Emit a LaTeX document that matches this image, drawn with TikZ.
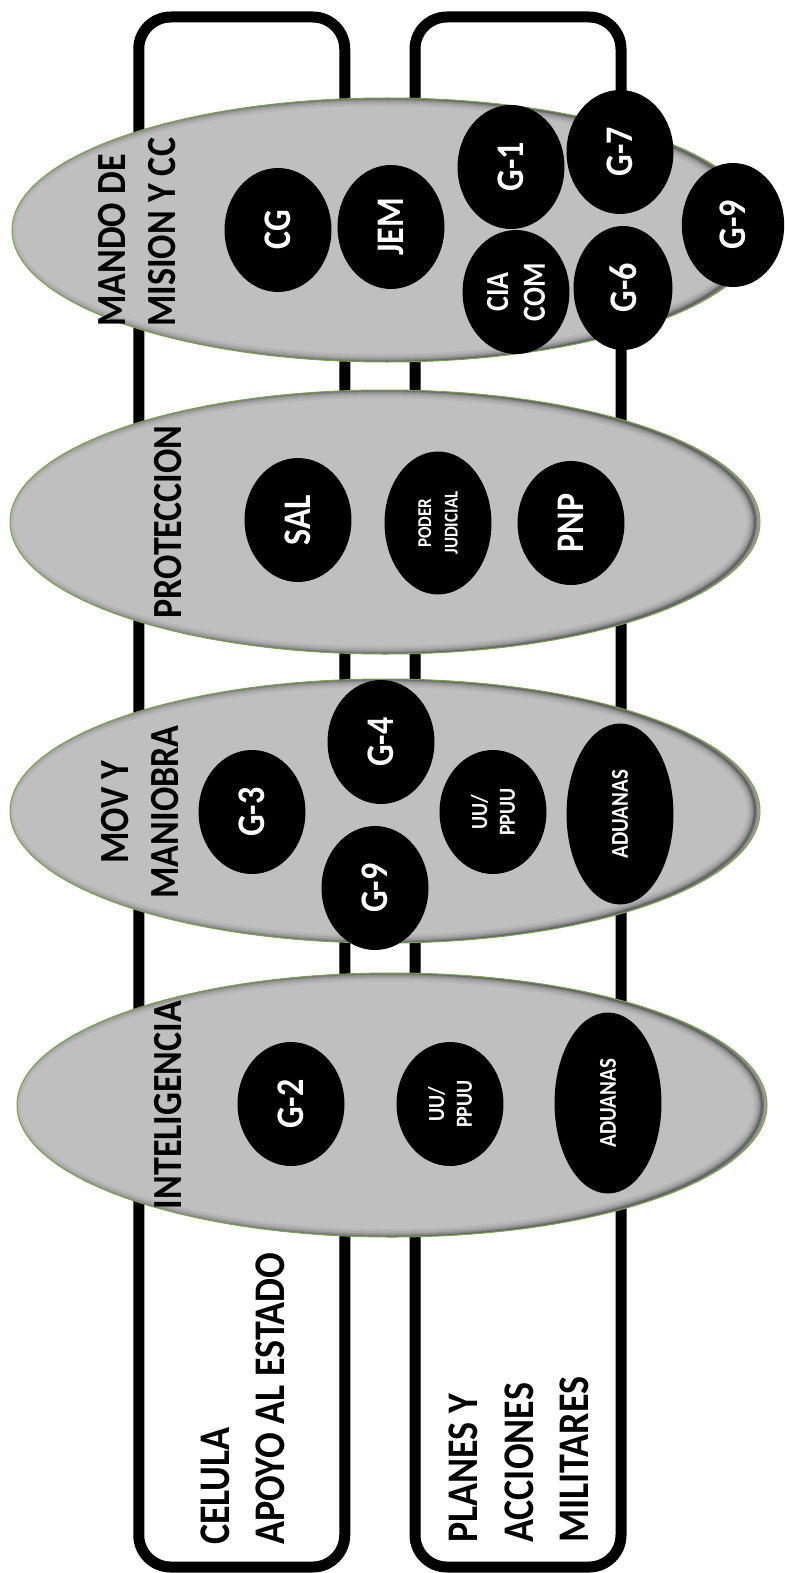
\documentclass[tikz,border=0pt]{standalone}
\usepackage{fontspec}
\setmainfont{Carlito}
\usetikzlibrary{shapes.geometric}
\definecolor{areagray}{RGB}{191,191,191}
\definecolor{areagreen}{RGB}{118,166,74}
\tikzset{
    frame/.style = {draw, rectangle, rounded corners=32pt, line width=11pt,
        minimum width=206pt, minimum height=1550pt},
    area/.style = {draw=areagreen, fill=areagray, ellipse, line width=1pt,
        minimum width=750pt, minimum height=264pt,
        path picture={
            \foreach \w/\o in {16/0.05, 11/0.08, 7/0.11, 4/0.15, 2/0.2}
                \draw [black, opacity=\o, line width=\w pt]
                    ([xshift=-5pt]path picture bounding box.center)
                    ellipse [x radius=375pt, y radius=132pt];
        }},
    unit/.style = {ellipse, fill=black, text=white, inner sep=0pt, align=center,
        rotate=90, yscale=1.15, transform shape,
        minimum width=124pt, minimum height=93pt,
        font=\fontsize{34}{38}\selectfont\bfseries},
    areatitle/.style = {rotate=90, yscale=1.15, transform shape, align=center,
        inner sep=0pt, font=\fontsize{36}{43}\selectfont\bfseries},
    frametext/.style = {rotate=90, yscale=1.15, transform shape, align=left,
        inner sep=0pt, anchor=west, font=\fontsize{38}{48}\selectfont\bfseries}
}
\begin{document}
\begin{tikzpicture}[x=1pt, y=-1pt]
    \useasboundingbox (0,0) rectangle (784,1573);
    % columnas
    \node [frame] (celula) at (241.75,792) {};
    \node [frame] (planes) at (518,792) {};
    \node [frametext] (celulatxt) at (243,1545) {CELULA\\APOYO AL ESTADO};
    \node [frametext] (planestxt) at (519,1543) {PLANES Y\\ACCIONES\\MILITARES};

    % areas
    \node [area] (mando) at (387,230) {};
    \node [area] (proteccion) at (385,522) {};
    \node [area] (maniobra) at (385,811) {};
    \node [area] (inteligencia) at (392,1105) {};

    \node [areatitle, align=left, anchor=west] (mandotxt) at (137,327) {MANDO DE\\MISION Y CC};
    \node [areatitle] (protecciontxt) at (168,522) {PROTECCION};
    \node [areatitle] (maniobratxt) at (140,812) {MOV Y\\MANIOBRA};
    \node [areatitle] (inteligenciatxt) at (168,1105) {INTELIGENCIA};

    % mando de mision y cc
    \node [unit] (cg) at (278,230) {CG};
    \node [unit] (jem) at (391,227) {JEM};
    \node [unit] (g1) at (511,167) {G-1};
    \node [unit, font=\fontsize{28}{32}\selectfont\bfseries] (ciacom) at (516,292) {CIA\\COM};
    \node [unit] (g7) at (620,152) {G-7};
    \node [unit, minimum height=86pt] (g6) at (623,288) {G-6};
    \node [unit, minimum height=89pt] (g9a) at (733,225) {G-9};

    % proteccion
    \node [unit] (sal) at (298,520) {SAL};
    \node [unit, minimum width=143pt, font=\fontsize{17}{23}\selectfont\bfseries] (poder) at (438,523) {PODER\\JUDICIAL};
    \node [unit] (pnp) at (571,523) {PNP};

    % mov y maniobra
    \node [unit] (g3) at (252,812) {G-3};
    \node [unit] (g4) at (381,742) {G-4};
    \node [unit] (g9b) at (375,888) {G-9};
    \node [unit, font=\fontsize{20}{24}\selectfont\bfseries] (uua) at (493,812) {UU/\\PPUU};
    \node [unit, minimum width=181pt, font=\fontsize{21}{24}\selectfont\bfseries] (aduanasa) at (620,814) {ADUANAS};

    % inteligencia
    \node [unit] (g2) at (291,1104) {G-2};
    \node [unit, font=\fontsize{20}{24}\selectfont\bfseries] (uub) at (450,1104) {UU/\\PPUU};
    \node [unit, minimum width=181pt, font=\fontsize{21}{24}\selectfont\bfseries] (aduanasb) at (608,1103) {ADUANAS};
\end{tikzpicture}
\end{document}
